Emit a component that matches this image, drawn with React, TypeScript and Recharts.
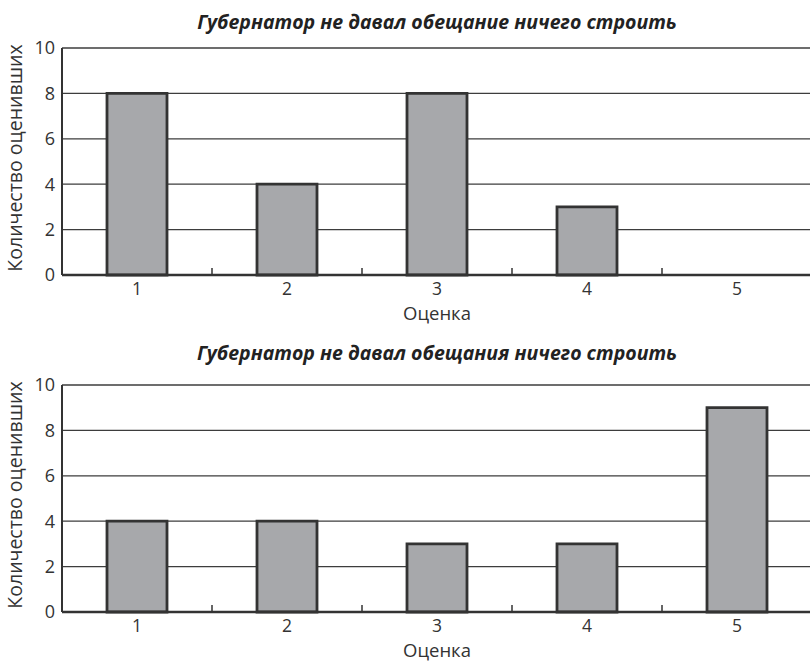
import { BarChart, Bar, XAxis, YAxis, CartesianGrid } from 'recharts'

// Оценки 1..5, число оценивших в каждом варианте
const categories = ['1', '2', '3', '4', '5']
const promiseCounts = [8, 4, 8, 3, 0]
const noPromiseCounts = [4, 4, 3, 3, 9]
const yTicks = [0, 2, 4, 6, 8, 10]
const titles = [
  'Губернатор не давал обещание ничего строить',
  'Губернатор не давал обещания ничего строить',
]
const xLabel = 'Оценка'
const yLabel = 'Количество оценивших'

const FONT = '"Open Sans", "DejaVu Sans", sans-serif'
const INK = '#333333'

function BandTick(props: any) {
  const { x, y, payload, index } = props
  const half = payload?.offset ?? 75
  return (
    <g>
      <text x={x} y={y + 20} textAnchor="middle" fontSize={17.5} fill={INK} fontFamily={FONT}>
        {payload.value}
      </text>
      {index < categories.length - 1 && (
        <line x1={x + half} x2={x + half} y1={y} y2={y - 7} stroke={INK} strokeWidth={1.5} />
      )}
    </g>
  )
}

type PanelProps = { title: string; values: number[]; top: number; titleY: number }

function Panel({ title, values, top, titleY }: PanelProps) {
  const rows = categories.map((c, i) => ({ score: c, count: values[i] }))
  return (
    <div style={{ position: 'absolute', left: 0, top, width: 830, height: 323 }}>
      <div
        style={{
          position: 'absolute', left: 62, width: 750, top: titleY - 11, lineHeight: '22px',
          textAlign: 'center', fontWeight: 700, fontStyle: 'italic', fontSize: 19.5, color: '#222',
        }}
      >
        {title}
      </div>
      <div style={{ position: 'absolute', left: 15, top: 158, width: 0, height: 0 }}>
        <div
          style={{
            position: 'absolute', left: -150, top: -12, width: 300, lineHeight: '24px',
            textAlign: 'center', fontSize: 19.5, color: INK, transform: 'rotate(-90deg)',
          }}
        >
          {yLabel}
        </div>
      </div>
      <div
        style={{
          position: 'absolute', left: 62, width: 750, top: 305, lineHeight: '16px',
          textAlign: 'center', fontSize: 18.5, color: INK,
        }}
      >
        {xLabel}
      </div>
      <div style={{ position: 'absolute', left: 0, top: 0 }}>
        <BarChart
          width={830}
          height={330}
          data={rows}
          margin={{ top: 48, right: 18, left: 0, bottom: 0 }}
          barCategoryGap="30%"
        >
          <CartesianGrid vertical={false} stroke="#3d3d3d" strokeWidth={1.3} />
          <XAxis
            dataKey="score"
            tickLine={false}
            tickSize={0}
            tickMargin={0}
            axisLine={{ stroke: INK, strokeWidth: 2.5 }}
            tick={<BandTick />}
            interval={0}
            height={55}
          />
          <YAxis
            domain={[0, 10]}
            ticks={yTicks}
            width={62}
            tickLine={false}
            tickSize={0}
            tickMargin={7}
            axisLine={{ stroke: INK, strokeWidth: 2 }}
            tick={{ fontSize: 18, fill: INK, fontFamily: FONT }}
          />
          <Bar dataKey="count" fill="#a7a8ab" stroke="#333" strokeWidth={2.8} isAnimationActive={false} />
        </BarChart>
      </div>
    </div>
  )
}

export default function App() {
  return (
    <div
      style={{
        position: 'absolute', left: 0, top: 0, width: 810, height: 664, overflow: 'hidden',
        background: '#fff', fontFamily: FONT,
      }}
    >
      <Panel title={titles[0]} values={promiseCounts} top={0} titleY={22} />
      <Panel title={titles[1]} values={noPromiseCounts} top={337} titleY={16} />
    </div>
  )
}
